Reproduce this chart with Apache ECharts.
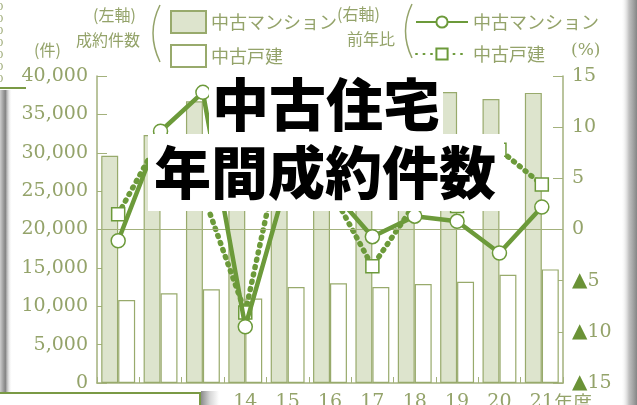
<!DOCTYPE html>
<html><head><meta charset="utf-8">
<script src="https://cdn.jsdelivr.net/npm/echarts@6/dist/echarts.min.js"></script>
<style>html,body{margin:0;padding:0;background:#fff;}#c{width:637px;height:405px;}</style>
</head><body><div id="c"></div>
<script>
// ---- data ----
const years = ['11','12','13','14','15','16','17','18','19','20','21'];
const mansionCount = [29600, 32300, 36700, 33200, 34900, 36900, 36700, 37300, 37900, 37000, 37800];
const houseCount   = [10800, 11700, 12200, 11000, 12500, 13000, 12500, 12900, 13200, 14100, 14800];
const mansionYoY   = [-1.1, 9.6, 13.4, -9.5, 5.0, 4.0, -0.7, 1.3, 0.8, -2.3, 2.2];
const houseYoY     = [1.5, 9.0, 3.5, -8.1, 11.0, 4.0, -3.6, 2.5, 2.3, 7.8, 4.4];
const titleLines = ['中古住宅', '年間成約件数'];

const axisColor = '#a3b17c';
const textColor = '#94a36a';
const mansionFill = '#dde4cd';
const barBorder = '#98aa6c';
const lineColor = '#6c9a3a';
const triColor = '#6a9236';
const jp = '"Noto Sans CJK JP"';
const serif = '"DejaVu Serif"';

const chart = echarts.init(document.getElementById('c'));
const lastIdx = years.length - 1;

const tinyZeros = [];
for (let i = 0; i < 7; i++) {
  tinyZeros.push({type:'text', left: -3, top: 2 + i * 12, style:{text:'0', font:'10px ' + serif, fill: textColor}});
}

chart.setOption({
  animation: false,
  backgroundColor: '#fff',
  grid: {left: 97, right: 74, top: 76, bottom: 22, containLabel: false, outerBoundsMode: 'none'},
  legend: [
    {data: ['中古マンション', '中古戸建'], left: 165, top: 5, orient: 'vertical',
     itemWidth: 35, itemHeight: 22, itemGap: 10, icon: 'rect', selectedMode: false,
     textStyle: {fontFamily: jp, fontSize: 18, color: textColor}},
    {data: ['中古マンション ', '中古戸建 '], left: 410, top: 8, orient: 'vertical',
     itemWidth: 52, itemHeight: 14, itemGap: 14, selectedMode: false,
     textStyle: {fontFamily: jp, fontSize: 18, color: textColor}}
  ],
  xAxis: {
    type: 'category', data: years, boundaryGap: true,
    axisLine: {lineStyle: {color: axisColor, width: 1.5}},
    axisTick: {show: true, inside: true, length: 6, lineStyle: {color: axisColor}},
    axisLabel: {
      interval: 0, margin: 10, fontFamily: serif, fontSize: 19, color: textColor,
      formatter: (v, i) => i === lastIdx ? '{s| }{n|' + v + '}{u|年度}' : v,
      rich: {
        s: {width: 38, fontSize: 19},
        n: {fontFamily: serif, fontSize: 19, color: textColor},
        u: {fontFamily: jp, fontSize: 19, color: textColor}
      }
    }
  },
  yAxis: [
    {type: 'value', min: 0, max: 40000, interval: 5000, position: 'left',
     axisLine: {show: true, lineStyle: {color: axisColor, width: 1.5}},
     axisTick: {show: true, inside: true, length: 10, lineStyle: {color: axisColor}},
     splitLine: {show: false},
     axisLabel: {margin: 9, fontFamily: serif, fontSize: 19, color: textColor,
       formatter: v => v.toLocaleString('en-US')}},
    {type: 'value', min: -15, max: 15, interval: 5, position: 'right',
     axisLine: {show: true, lineStyle: {color: axisColor, width: 1.5}},
     axisTick: {show: true, inside: true, length: 10, lineStyle: {color: axisColor}},
     splitLine: {show: false},
     axisLabel: {margin: 9, color: textColor,
       formatter: v => v < 0 ? '{t|▲}{n|' + (-v) + '}' : '{n|' + v + '}',
       rich: {
         t: {fontFamily: serif, fontSize: 20, color: triColor},
         n: {fontFamily: serif, fontSize: 19, color: textColor}
       }}}
  ],
  series: [
    {name: '中古マンション', type: 'bar', data: mansionCount, barGap: '0%', barCategoryGap: '20%',
     itemStyle: {color: mansionFill, borderColor: barBorder, borderWidth: 1.2}},
    {name: '中古戸建', type: 'bar', data: houseCount,
     itemStyle: {color: '#fff', borderColor: barBorder, borderWidth: 1.2},
     markLine: {silent: true, symbol: 'none', label: {show: false},
       lineStyle: {color: axisColor, type: 'solid', width: 1.2},
       data: [{yAxis: 20000}]}},
    {name: '中古戸建 ', type: 'line', yAxisIndex: 1, data: houseYoY, z: 4,
     symbol: 'rect', symbolSize: 13,
     lineStyle: {color: lineColor, width: 5.5, type: [1, 6.5], cap: 'round'},
     itemStyle: {color: '#fff', borderColor: lineColor, borderWidth: 1.5}},
    {name: '中古マンション ', type: 'line', yAxisIndex: 1, data: mansionYoY, z: 5,
     symbol: 'circle', symbolSize: 14,
     lineStyle: {color: lineColor, width: 4.5},
     itemStyle: {color: '#fff', borderColor: lineColor, borderWidth: 1.5}}
  ],
  graphic: [
    // legend captions
    {type: 'text', left: 93, top: 7, style: {text: '(左軸)', font: '16px ' + jp, fill: textColor}},
    {type: 'text', left: 76, top: 32, style: {text: '成約件数', font: '16px ' + jp, fill: textColor}},
    {type: 'text', left: 34, top: 42, style: {text: '(件)', font: '16px ' + jp, fill: textColor}},
    {type: 'text', left: 337, top: 6, style: {text: '(右軸)', font: '16px ' + jp, fill: textColor}},
    {type: 'text', left: 347, top: 31, style: {text: '前年比', font: '16px ' + jp, fill: textColor}},
    {type: 'text', left: 571, top: 42, style: {text: '(%)', font: '17px ' + serif, fill: textColor}},
    {type: 'bezierCurve', shape: {x1: 160, y1: 5, cpx1: 146, cpy1: 33, x2: 160, y2: 62},
     style: {stroke: textColor, lineWidth: 1.5, fill: null}},
    {type: 'bezierCurve', shape: {x1: 412, y1: 4, cpx1: 399, cpy1: 31, x2: 412, y2: 58},
     style: {stroke: textColor, lineWidth: 1.5, fill: null}},
    // title overlay
    {type: 'rect', z: 100, shape: {x: 209, y: 72, width: 234, height: 62}, style: {fill: '#fff'}},
    {type: 'rect', z: 100, shape: {x: 148, y: 134, width: 356, height: 77}, style: {fill: '#fff'}},
    {type: 'text', z: 101, x: 326, y: 104, style: {text: titleLines[0], font: '900 57px ' + jp, fill: '#000',
      align: 'center', verticalAlign: 'middle',
      shadowColor: 'rgba(90,120,175,0.55)', shadowBlur: 6, shadowOffsetX: 4, shadowOffsetY: 5}},
    {type: 'text', z: 101, x: 325, y: 172, style: {text: titleLines[1], font: '900 57px ' + jp, fill: '#000',
      align: 'center', verticalAlign: 'middle',
      shadowColor: 'rgba(90,120,175,0.55)', shadowBlur: 6, shadowOffsetX: 4, shadowOffsetY: 5}},
    // page edge artefacts
    ...tinyZeros,
    {type: 'line', z: 90, shape: {x1: 0, y1: 88, x2: 26, y2: 88}, style: {stroke: '#7a9a45', lineWidth: 2}},
    {type: 'rect', z: 90, shape: {x: 0, y: 90, width: 12, height: 303},
     style: {fill: new echarts.graphic.LinearGradient(0, 0, 1, 0, [
       {offset: 0, color: 'rgba(200,200,200,0.9)'}, {offset: 0.45, color: 'rgba(110,110,110,0.85)'},
       {offset: 1, color: 'rgba(255,255,255,0)'}])}},
    {type: 'rect', z: 90, shape: {x: -2, y: 393, width: 202, height: 20},
     style: {fill: '#fff', stroke: '#7a9a45', lineWidth: 2}},
    {type: 'rect', z: 89, shape: {x: 201, y: 391, width: 18, height: 14},
     style: {fill: new echarts.graphic.LinearGradient(0, 0, 1, 0, [
       {offset: 0, color: 'rgba(140,140,140,1)'}, {offset: 0.5, color: 'rgba(215,215,215,1)'},
       {offset: 1, color: 'rgba(255,255,255,1)'}])}},
    {type: 'rect', z: 90, shape: {x: 621, y: 0, width: 16, height: 405},
     style: {fill: new echarts.graphic.LinearGradient(0, 0, 1, 0, [
       {offset: 0, color: 'rgba(255,255,255,0)'}, {offset: 0.5, color: 'rgba(150,150,150,0.6)'},
       {offset: 1, color: 'rgba(120,120,120,0.9)'}])}}
  ]
});
</script></body></html>
